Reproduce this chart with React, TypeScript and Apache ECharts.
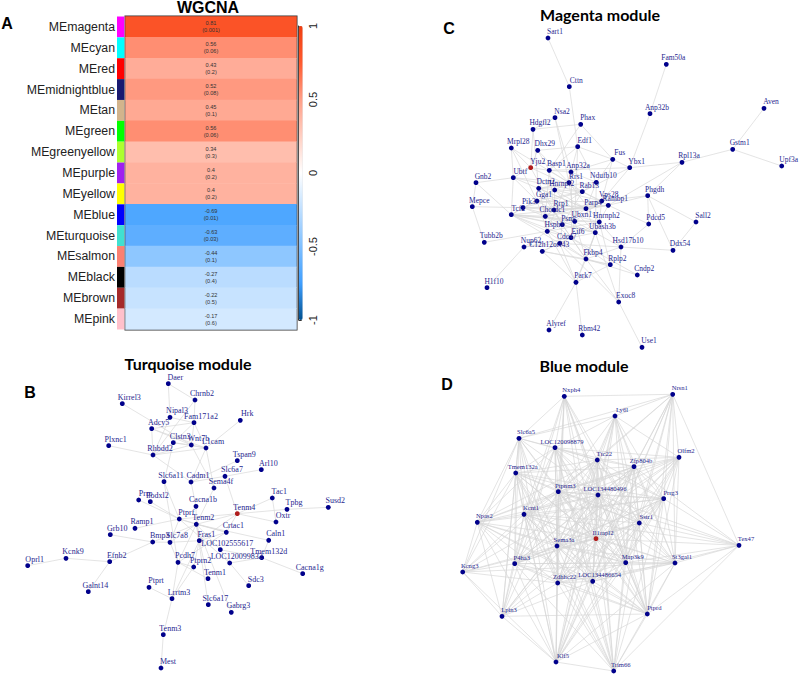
import React, { useEffect, useRef } from "react";
import * as echarts from "echarts";

// ---------- Panel A data ----------
const modules = ["MEmagenta","MEcyan","MEred","MEmidnightblue","MEtan","MEgreen","MEgreenyellow","MEpurple","MEyellow","MEblue","MEturquoise","MEsalmon","MEblack","MEbrown","MEpink"];
const moduleColors = ["#ff00ff","#00ffff","#ff0000","#191970","#d2b48c","#00ff00","#adff2f","#a020f0","#ffff00","#0000ff","#40e0d0","#fa8072","#000000","#a52a2a","#ffc0cb"];
const correlations = [0.81,0.56,0.43,0.52,0.45,0.56,0.34,0.4,0.4,-0.69,-0.63,-0.44,-0.27,-0.22,-0.17];
const pValues = ["0.001","0.06","0.2","0.08","0.1","0.06","0.3","0.2","0.2","0.01","0.03","0.1","0.4","0.5","0.6"];
const colorbarTicks = ["-1","-0.5","0","0.5","1"];

// ---------- Network layouts: [gene, layout x, layout y] ----------
type N = [string, number, number];
const magentaNodes: N[] = [
["Sart1",548,38],["Cttn",569.3,86.7],["Fam50a",666.3,64.3],["Anp32b",650,113.7],["Aven",764,108.3],["Nsa2",555,117.7],["Phax",580.7,124.3],["Hdgfl2",533,129.3],["Edf1",577.7,146.7],["Mrpl28",511.3,148],["Dhx29",537.7,150.3],["Gstm1",732.7,149.3],["Fus",612.7,159.3],["Ybx1",629.7,167.7],["Rpl13a",682,162.3],["Upf3a",781.7,166],["Yju2",530.7,167.7],["Basp1",549.3,170.3],["Anp32a",571,172],["Ubtf",513.3,177.7],["Gnb2",476,182.7],["Ndufb10",596.3,182.3],["Rrs1",569,182.7],["Dctn2",538.7,188.3],["Hnrnpl2",554.7,190],["Rab13",582.3,191.7],["Gga1",537,201],["Phgdh",647.7,195.7],["Mepce",472.3,206.7],["Pik3r",523,207.7],["Vps28",601.7,201],["Parp4",586,208.7],["Rambp1",608.3,205.3],["Tcf2",511.3,214.7],["Rrp1",554,210],["Chordc1",545.3,216.3],["Ubxn1",574.7,221.3],["Psmc",562.3,224.7],["Hsph1",547.3,231.3],["Hnrnph2",599.3,222],["Pdcd5",648.7,224],["Sall2",696,222],["Eif6",571,237.7],["Ubash3b",595.3,232.7],["Cdc47",559.7,243.3],["Nup62",524,247],["Tubb2b",484.3,242.3],["Hsd17b10",621,247],["Ddx54",673,250.3],["C12h12orf43",542.3,251.3],["Fkbp4",586,259],["Rplp2",610.3,264.7],["Cndp2",637.3,275],["Park7",576,282.3],["H1f10",487,287.7],["Exoc8",618.7,302],["Alyref",549,330],["Rbm42",582.3,335],["Use1",642,347.3],
];
const magentaEdges: [string,string][] = [
["Sart1","Cttn"],["Cttn","Edf1"],["Fam50a","Anp32b"],["Anp32b","Ybx1"],["Aven","Gstm1"],["Gstm1","Upf3a"],["Gstm1","Rpl13a"],["Rpl13a","Ybx1"],["Rpl13a","Rambp1"],["Nsa2","Anp32a"],["Nsa2","Hdgfl2"],["Nsa2","Rrs1"],["Phax","Hdgfl2"],["Phax","Fus"],["Phax","Basp1"],["Hdgfl2","Dctn2"],["Hdgfl2","Yju2"],["Edf1","Fus"],["Edf1","Anp32a"],["Edf1","Basp1"],["Edf1","Ubxn1"],["Edf1","Ndufb10"],["Mrpl28","Yju2"],["Mrpl28","Ubtf"],["Mrpl28","Rrs1"],["Mrpl28","Gga1"],["Dhx29","Yju2"],["Dhx29","Rrs1"],["Dhx29","Edf1"],["Dhx29","Basp1"],["Fus","Anp32a"],["Fus","Ybx1"],["Fus","Ndufb10"],["Fus","Vps28"],["Ybx1","Basp1"],["Ybx1","Rab13"],["Ybx1","Vps28"],["Yju2","Basp1"],["Yju2","Ubtf"],["Yju2","Rab13"],["Yju2","Psmc"],["Basp1","Anp32a"],["Basp1","Rrs1"],["Basp1","Chordc1"],["Basp1","Rrp1"],["Anp32a","Ndufb10"],["Anp32a","Hsph1"],["Anp32a","Eif6"],["Ubtf","Gnb2"],["Ubtf","Rrs1"],["Ubtf","Rab13"],["Ubtf","Tcf2"],["Ubtf","Gga1"],["Ubtf","Parp4"],["Gnb2","Mepce"],["Gnb2","Tcf2"],["Ndufb10","Rab13"],["Ndufb10","Dctn2"],["Ndufb10","Parp4"],["Ndufb10","Ubash3b"],["Rrs1","Dctn2"],["Rrs1","Hnrnpl2"],["Rrs1","Rab13"],["Rrs1","Ubxn1"],["Rrs1","Hnrnph2"],["Dctn2","Rab13"],["Dctn2","Parp4"],["Dctn2","Chordc1"],["Dctn2","Eif6"],["Hnrnpl2","Rrp1"],["Hnrnpl2","Parp4"],["Hnrnpl2","Vps28"],["Hnrnpl2","Tcf2"],["Hnrnpl2","Ubash3b"],["Rab13","Vps28"],["Rab13","Rambp1"],["Rab13","Gga1"],["Rab13","Pik3r"],["Rab13","Chordc1"],["Rab13","Psmc"],["Gga1","Pik3r"],["Gga1","Rrp1"],["Gga1","Parp4"],["Gga1","Vps28"],["Gga1","Hsph1"],["Phgdh","Vps28"],["Phgdh","Rambp1"],["Phgdh","Pdcd5"],["Phgdh","Ddx54"],["Phgdh","Rpl13a"],["Phgdh","Sall2"],["Mepce","Pik3r"],["Mepce","Tubb2b"],["Pik3r","Rrp1"],["Pik3r","Parp4"],["Pik3r","Tcf2"],["Pik3r","Chordc1"],["Pik3r","Ubxn1"],["Pik3r","Rambp1"],["Vps28","Parp4"],["Vps28","Chordc1"],["Vps28","Ubxn1"],["Vps28","Hnrnph2"],["Parp4","Rrp1"],["Parp4","Rambp1"],["Parp4","Psmc"],["Parp4","Ubash3b"],["Rambp1","Rrp1"],["Rambp1","Pdcd5"],["Rambp1","Chordc1"],["Rambp1","Hnrnph2"],["Rambp1","Tcf2"],["Tcf2","Chordc1"],["Tcf2","Ubxn1"],["Tcf2","Hnrnph2"],["Tcf2","Psmc"],["Tcf2","Hsph1"],["Tcf2","Eif6"],["Tcf2","Ubash3b"],["Tcf2","Cdc47"],["Rrp1","Chordc1"],["Rrp1","Ubxn1"],["Rrp1","Hnrnph2"],["Rrp1","Psmc"],["Chordc1","Ubxn1"],["Chordc1","Psmc"],["Chordc1","Hsph1"],["Chordc1","Eif6"],["Chordc1","Ubash3b"],["Ubxn1","Psmc"],["Ubxn1","Hnrnph2"],["Ubxn1","Eif6"],["Ubxn1","Fkbp4"],["Ubxn1","Hsd17b10"],["Psmc","Hsph1"],["Psmc","Ubash3b"],["Psmc","Cdc47"],["Psmc","Fkbp4"],["Hsph1","Eif6"],["Hsph1","Fkbp4"],["Hsph1","Hnrnph2"],["Hnrnph2","Ubash3b"],["Hnrnph2","Hsd17b10"],["Hnrnph2","Fkbp4"],["Hnrnph2","Eif6"],["Pdcd5","Hsd17b10"],["Sall2","Ddx54"],["Eif6","Ubash3b"],["Eif6","Cdc47"],["Eif6","Fkbp4"],["Eif6","Rplp2"],["Eif6","C12h12orf43"],["Ubash3b","Fkbp4"],["Ubash3b","Exoc8"],["Ubash3b","Park7"],["Cdc47","C12h12orf43"],["Cdc47","Fkbp4"],["Cdc47","Park7"],["Cdc47","Nup62"],["Nup62","H1f10"],["Nup62","Hsph1"],["Nup62","Eif6"],["Tubb2b","Hsph1"],["Hsd17b10","Ddx54"],["Hsd17b10","Fkbp4"],["Hsd17b10","Exoc8"],["Hsd17b10","Cdc47"],["C12h12orf43","Fkbp4"],["C12h12orf43","Park7"],["C12h12orf43","Rplp2"],["Fkbp4","Rplp2"],["Fkbp4","Cndp2"],["Fkbp4","Park7"],["Fkbp4","Exoc8"],["Rplp2","Hnrnph2"],["Rplp2","Park7"],["Cndp2","Eif6"],["Park7","Alyref"],["Park7","Rbm42"],["Park7","Hsph1"],["Exoc8","Use1"],["Exoc8","Cdc47"],
];

const turquoiseNodes: N[] = [
["Daer",168.3,383.7],["Chrnb2",195,400],["Kirrel3",122.3,403.7],["Nipal3",170,417.3],["Fam171a2",194,422.7],["Hrk",240.3,420.3],["Adcy5",151.7,428.7],["Clstn3",173.3,442.7],["Wnt7b",191.3,445],["L1cam",206,448],["Plxnc1",108.7,445.7],["Rhbdd2",153,455],["Tspan9",237.3,460.7],["Arl10",261.3,469.7],["Slc6a7",225,476.3],["Slc6a11",164,481.7],["Cadm1",191,482],["Sema4f",214,488],["Tac1",272.3,498],["Prrp",138.7,500],["Podxl2",150.3,501.7],["Susd2",328.3,507.3],["Cacna1b",196,506.3],["Tpbg",287,509.3],["Tenm4",237.3,513.7],["Ptprf",179.3,519],["Oxtr",276,522],["Tenm2",196.3,524.3],["Ramp1",135,528.3],["Crtac1",226.3,532.3],["Grb10",110.3,534.7],["Caln1",268.7,540.3],["Fras1",199.3,540.7],["Bmp3",152.7,542],["Slc7a8",170,542.3],["LOC102555617",220.3,549.7],["Kcnk9",66,558.3],["Tmem132d",261.7,557.7],["Efnb2",109.7,561.7],["Pcdh7",178,562.3],["LOC120099832",229.7,563],["Oprl1",27.7,565.7],["Ptprn2",193.7,567],["Cacna1g",302.7,573.7],["Tenm1",208,578.7],["Sdc3",248.7,585.7],["Ptprt",149,587.3],["Galnt14",88.3,591.7],["Lrrtm3",172,598.7],["Slc6a17",208.3,604.7],["Gabrg3",231.3,612.3],["Tenm3",163.3,634.7],["Mest",161,668],
];
const turquoiseEdges: [string,string][] = [
["Daer","Nipal3"],["Daer","Chrnb2"],["Chrnb2","Fam171a2"],["Chrnb2","Rhbdd2"],["Kirrel3","Wnt7b"],["Nipal3","Rhbdd2"],["Nipal3","Fam171a2"],["Adcy5","Fam171a2"],["Adcy5","Rhbdd2"],["Adcy5","Wnt7b"],["Adcy5","L1cam"],["Fam171a2","Wnt7b"],["Fam171a2","L1cam"],["Fam171a2","Clstn3"],["Hrk","L1cam"],["Plxnc1","Rhbdd2"],["Rhbdd2","Wnt7b"],["Rhbdd2","L1cam"],["Rhbdd2","Clstn3"],["Rhbdd2","Cadm1"],["Clstn3","Wnt7b"],["Clstn3","L1cam"],["Clstn3","Slc6a11"],["Wnt7b","L1cam"],["Wnt7b","Sema4f"],["L1cam","Cadm1"],["L1cam","Sema4f"],["Tspan9","Cadm1"],["Cadm1","Slc6a7"],["Cadm1","Cacna1b"],["Slc6a7","Arl10"],["Slc6a7","Tenm4"],["Sema4f","Tenm2"],["Slc6a11","Ptprf"],["Slc6a11","Pcdh7"],["Prrp","Ptprf"],["Podxl2","Ptprf"],["Cacna1b","Tenm2"],["Tenm4","Tac1"],["Tenm4","Tpbg"],["Tpbg","Susd2"],["Tenm4","Oxtr"],["Tac1","Oxtr"],["Tenm4","Tenm2"],["Tenm4","Ptprf"],["Tenm4","Fras1"],["Tenm4","Crtac1"],["Ptprf","Ramp1"],["Ptprf","Tenm2"],["Ptprf","Crtac1"],["Ptprf","LOC120099832"],["Ptprf","Slc7a8"],["Tenm2","Caln1"],["Tenm2","Slc6a17"],["Tenm2","Pcdh7"],["Tenm2","Gabrg3"],["Tenm2","Fras1"],["Tenm2","LOC102555617"],["Tenm2","Slc7a8"],["Tenm2","Crtac1"],["Grb10","Bmp3"],["Bmp3","Slc7a8"],["Bmp3","Efnb2"],["Bmp3","Tenm2"],["Slc7a8","Fras1"],["Slc7a8","Pcdh7"],["Efnb2","Kcnk9"],["Kcnk9","Oprl1"],["Efnb2","Galnt14"],["Crtac1","Fras1"],["Crtac1","Pcdh7"],["Fras1","Lrrtm3"],["Fras1","Ptprn2"],["Fras1","Tenm1"],["Caln1","Tmem132d"],["Tmem132d","Cacna1g"],["LOC102555617","Tmem132d"],["LOC120099832","Sdc3"],["LOC102555617","LOC120099832"],["Tmem132d","LOC120099832"],["Pcdh7","Ptprn2"],["Pcdh7","Tenm1"],["Pcdh7","Lrrtm3"],["Ptprn2","Lrrtm3"],["Ptprt","Lrrtm3"],["Lrrtm3","Tenm3"],["Tenm3","Mest"],
];

const blueNodes: N[] = [
["Nxph4",564.3,396.3],["Nrsn1",672.7,394.3],["Ly6l",615,416],["Slc6a5",519,438.3],["LOC120098879",555,447.7],["Olfm2",679,457.3],["Ttc22",597.3,460],["Zfp804b",634,466.7],["Tmem132a",515.7,473],["Ptpnm3",558.3,491.7],["LOC134480496",598,495],["Prrg3",663.7,498.7],["Kcnt1",524,514.3],["Npas2",477.3,522.3],["Sstr1",639.3,523],["Il1rapl2",596,538.7],["Tex47",739,545.3],["Sema3a",557,546],["Map3k9",625.7,562.7],["St3gal1",675,563],["P4ha3",514.7,563.7],["Kcng3",462.7,572],["LOC134486654",592.7,581.3],["Zdhhc22",557.7,583],["Ptprd",647.3,614],["Lpin3",502,616.3],["Klf5",556,662],["Trim66",613.7,671],
];
// For each gene (by its order in blueNodes): the later genes that it links to.
const blueAdjacency: number[][] = [
/* 0 */ [1,3,4,6,9,10,12,14,15,17,18,20,22,23,24],
/* 1 */ [2,3,5,6,7,9,11,14,15,16,18,19,22,24,26],
/* 2 */ [3,4,5,6,7,9,10,11,14,15,17,18,19,23,24,26],
/* 3 */ [4,6,8,9,10,12,13,15,17,20,21,23,25,26],
/* 4 */ [5,6,7,8,9,10,11,12,13,14,15,17,18,20,22,23,24,25,27],
/* 5 */ [6,7,9,10,11,12,14,15,17,18,19,20,22,23,24],
/* 6 */ [7,8,9,10,11,12,13,14,15,17,18,19,20,22,23,24,26,27],
/* 7 */ [8,9,10,11,12,13,14,15,16,17,18,19,20,22,23,24,25,26,27],
/* 8 */ [9,10,11,12,13,14,15,17,18,20,21,22,23,25,26,27],
/* 9 */ [10,11,12,13,14,15,16,17,18,19,20,21,22,23,24,25,26,27],
/* 10 */ [11,12,13,14,15,16,17,18,19,20,21,22,23,24,25,26,27],
/* 11 */ [12,13,14,15,16,17,18,19,20,22,23,24,26,27],
/* 12 */ [13,14,15,16,17,18,19,20,21,22,23,24,25,26,27],
/* 13 */ [15,17,18,20,21,22,23,24,25,26],
/* 14 */ [15,16,17,18,19,20,22,23,24,26,27],
/* 15 */ [16,17,18,19,20,21,22,23,24,25,26,27],
/* 16 */ [18,19,22,24,27],
/* 17 */ [18,19,20,21,22,23,24,25,26,27],
/* 18 */ [19,20,22,23,24,26,27],
/* 19 */ [20,21,22,23,24,26,27],
/* 20 */ [21,22,23,24,25,26,27],
/* 21 */ [23,25,26],
/* 22 */ [23,24,25,26,27],
/* 23 */ [24,25,26,27],
/* 24 */ [25,26,27],
/* 25 */ [26],
/* 26 */ [27],
];

const network = (nodes: N[], links: any[], hub: string, fontSize: number, edgeColor: string, edgeWidth: number) => ({
  type: "graph",
  layout: "none",
  coordinateSystem: "cartesian2d",
  xAxisIndex: 3,
  yAxisIndex: 3,
  symbol: "circle",
  symbolSize: 4.8,
  silent: true,
  data: nodes.map(([name, x, y]) => ({
    name,
    value: [x, y],
    itemStyle: { color: name === hub ? "#b01c1c" : "#00008b" },
  })),
  links,
  lineStyle: { color: edgeColor, width: edgeWidth, opacity: 1, curveness: 0 },
  label: {
    show: true,
    position: "inside",
    offset: [7, -6.5],
    formatter: "{b}",
    fontFamily: "Liberation Serif",
    fontSize,
    color: "#27278f",
    textBorderWidth: 0,
  },
});

const pairLinks = (e: [string, string][]) => e.map(([source, target]) => ({ source, target }));
const adjacencyLinks = blueAdjacency.flatMap((row, i) => row.map((j) => ({ source: blueNodes[i][0], target: blueNodes[j][0] })));

const heading = (text: string, x: number, y: number, font: string, size: number) => ({
  text,
  left: x,
  top: y,
  textAlign: "center",
  textVerticalAlign: "middle",
  padding: 0,
  textStyle: { fontFamily: font, fontWeight: "bold", fontSize: size, color: "#000" },
});

const option: any = {
  animation: false,
  backgroundColor: "#ffffff",
  title: [
    heading("WGCNA", 208, 7, "Liberation Sans", 16),
    heading("Magenta module", 600, 14, "Lato", 16),
    heading("Turquoise module", 188, 363, "Lato", 16),
    heading("Blue module", 584, 365, "Lato", 16),
    heading("A", 7, 23, "Liberation Sans", 16),
    heading("C", 449, 28, "Liberation Sans", 16),
    heading("B", 30, 392, "Liberation Sans", 16),
    heading("D", 447, 384, "Liberation Sans", 16),
  ],
  grid: [
    { left: 125.5, top: 16.5, width: 171, height: 313, show: true, borderColor: "#333", borderWidth: 2, backgroundColor: "transparent" },
    { left: 117, top: 16.5, width: 7.3, height: 313 },
    { left: 298.7, top: 26, width: 4, height: 294 },
    { left: 0, top: 0, width: 800, height: 674 },
  ],
  xAxis: [
    { type: "category", gridIndex: 0, data: ["WGCNA"], show: false },
    { type: "value", gridIndex: 1, min: 0, max: 1, show: false },
    { type: "value", gridIndex: 2, min: 0, max: 1, show: false },
    { type: "value", gridIndex: 3, min: 0, max: 800, show: false },
  ],
  yAxis: [
    { type: "category", gridIndex: 0, data: modules, inverse: true, show: false },
    {
      type: "category", gridIndex: 1, data: modules, inverse: true, position: "left",
      axisLine: { show: false }, axisTick: { show: false },
      axisLabel: { interval: 0, margin: 2, fontFamily: "Liberation Sans", fontSize: 12.3, color: "#222" },
    },
    {
      type: "value", gridIndex: 2, min: -1, max: 1, interval: 0.5, position: "right",
      axisLine: { show: true, lineStyle: { color: "#333", width: 1 } },
      axisTick: { show: true, length: 3, lineStyle: { color: "#333", width: 1 } },
      splitLine: { show: false },
      axisLabel: {
        rotate: 90, margin: 5, fontFamily: "Liberation Sans", fontSize: 11, color: "#222",
        formatter: (v: number) => colorbarTicks[Math.round((v + 1) * 2)],
      },
    },
    { type: "value", gridIndex: 3, min: 0, max: 674, inverse: true, show: false },
  ],
  visualMap: {
    type: "continuous",
    seriesIndex: 0,
    min: -1,
    max: 1,
    calculable: false,
    hoverLink: false,
    itemWidth: 4,
    itemHeight: 294,
    left: 298.7,
    top: 26,
    padding: 0,
    text: null,
    showLabel: false,
    inRange: {
      color: ["#00508f","#3f9fff","#7fbfff","#bfdfff","#ffffff","#ffcfc2","#ff9f87","#ff5a2e","#f03e10"],
    },
  },
  series: [
    {
      type: "heatmap",
      xAxisIndex: 0,
      yAxisIndex: 0,
      data: modules.map((_, i) => [0, i, correlations[i]]),
      silent: true,
      label: {
        show: true,
        fontFamily: "Liberation Sans",
        fontSize: 5.6,
        lineHeight: 7,
        color: "#333",
        formatter: (p: any) => `${correlations[p.dataIndex]}\n(${pValues[p.dataIndex]})`,
      },
    },
    {
      type: "bar",
      xAxisIndex: 1,
      yAxisIndex: 1,
      barWidth: "100%",
      silent: true,
      data: moduleColors.map((color) => ({ value: 1, itemStyle: { color } })),
    },
    network(magentaNodes, pairLinks(magentaEdges), "Yju2", 7.5, "#d8d8d8", 0.7),
    network(turquoiseNodes, pairLinks(turquoiseEdges), "Tenm4", 8, "#d8d8d8", 0.7),
    network(blueNodes, adjacencyLinks, "Il1rapl2", 6.6, "#d6d6d6", 0.65),
  ],
};

export default function App() {
  const ref = useRef<HTMLDivElement>(null);
  useEffect(() => {
    document.body.style.margin = "0";
    const chart = echarts.init(ref.current!, undefined, { renderer: "svg" });
    chart.setOption(option);
    return () => chart.dispose();
  }, []);
  return <div ref={ref} style={{ width: 800, height: 674 }} />;
}
